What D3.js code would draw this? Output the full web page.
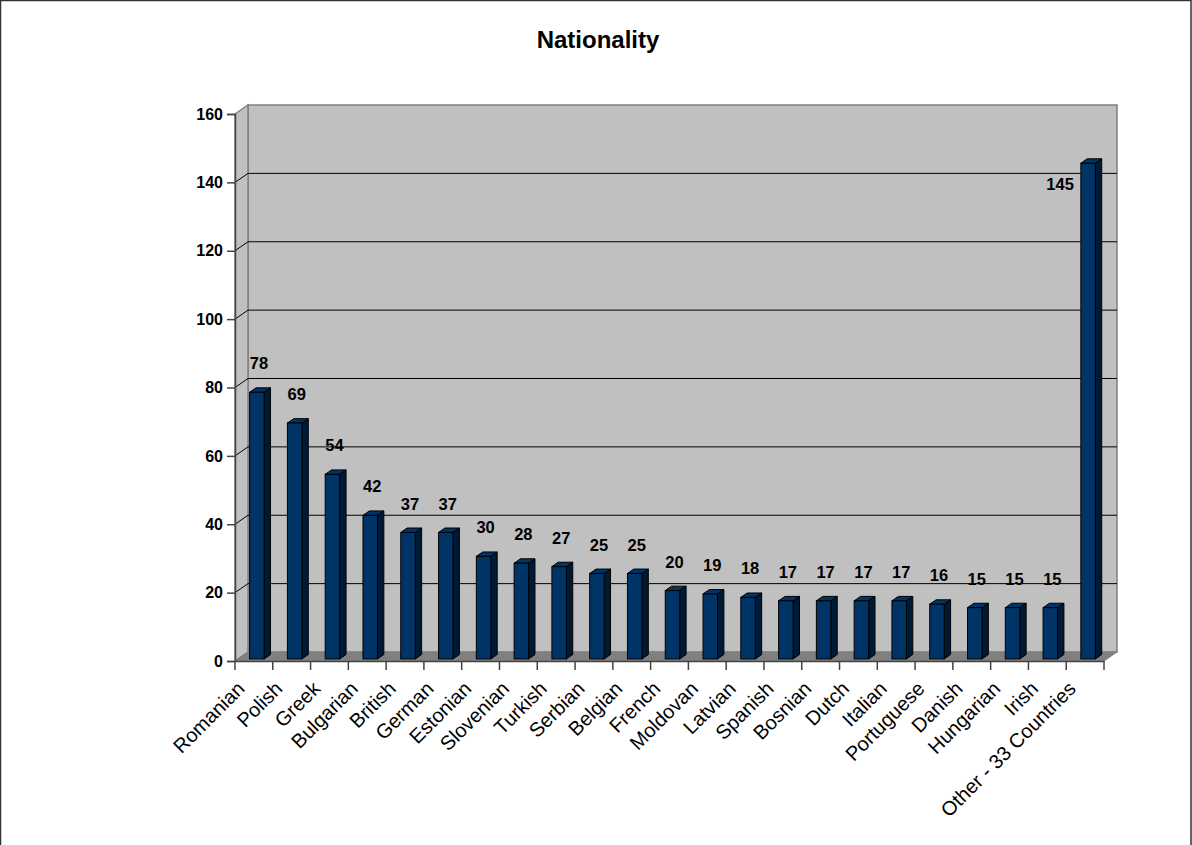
<!DOCTYPE html>
<html>
<head>
<meta charset="utf-8">
<script src="https://cdn.jsdelivr.net/npm/d3@7"></script>
<style>
  html, body { margin: 0; padding: 0; background: #fff; }
  svg { display: block; font-family: Arial, "Liberation Sans", sans-serif; }
</style>
</head>
<body>
<svg id="chart" width="1192" height="845"></svg>
<script>
// Nationality counts
const categories = ["Romanian", "Polish", "Greek", "Bulgarian", "British", "German", "Estonian",
  "Slovenian", "Turkish", "Serbian", "Belgian", "French", "Moldovan", "Latvian", "Spanish",
  "Bosnian", "Dutch", "Italian", "Portuguese", "Danish", "Hungarian", "Irish", "Other - 33 Countries"];
const counts = [78, 69, 54, 42, 37, 37, 30, 28, 27, 25, 25, 20, 19, 18, 17, 17, 17, 17, 16, 15, 15, 15, 145];
const yTicks = [0, 20, 40, 60, 80, 100, 120, 140, 160];
const chartTitle = "Nationality";

const W = 1192, H = 845;
const FONT = "Arial, 'Liberation Sans', sans-serif";
const svg = d3.select("#chart");

// outer chart border
svg.append("rect").attr("x", 0.5).attr("y", 0.5).attr("width", W - 1.5).attr("height", H + 5)
  .attr("fill", "#fff").attr("stroke", "#333").attr("stroke-width", 1.5);

// front plane scales
const x = d3.scaleBand().domain(categories).range([235, 1104]).paddingInner(0).paddingOuter(0);
const y = d3.scaleLinear().domain([0, 160]).range([661, 114]);

// depth vector of the 3D box (front -> back)
const DX = 13, DY = -9;
const x0 = x.range()[0], x1 = x.range()[1];
const yBot = y(0), yTop = y(160);

const pts = a => a.map(p => p.join(",")).join(" ");

// back wall
svg.append("polygon")
  .attr("points", pts([[x0 + DX, yTop + DY], [x1 + DX, yTop + DY], [x1 + DX, yBot + DY], [x0 + DX, yBot + DY]]))
  .attr("fill", "#c0c0c0").attr("stroke", "#808080").attr("stroke-width", 1.5);

// side wall
svg.append("polygon")
  .attr("points", pts([[x0, yTop], [x0 + DX, yTop + DY], [x0 + DX, yBot + DY], [x0, yBot]]))
  .attr("fill", "#c0c0c0").attr("stroke", "#808080").attr("stroke-width", 1.5);

// floor
svg.append("polygon")
  .attr("points", pts([[x0, yBot], [x0 + DX, yBot + DY], [x1 + DX, yBot + DY], [x1, yBot]]))
  .attr("fill", "#808080").attr("stroke", "#808080").attr("stroke-width", 1);

// gridlines on side and back walls
const grid = yTicks.filter(t => t > 0 && t < 160);
svg.append("g").selectAll("path").data(grid).join("path")
  .attr("d", t => `M${x0},${y(t)}L${x0 + DX},${y(t) + DY}L${x1 + DX},${y(t) + DY}`)
  .attr("fill", "none").attr("stroke", "#000").attr("stroke-width", 1);

// value axis
const yAxis = d3.axisLeft(y).tickValues(yTicks).tickSize(8).tickPadding(4);
const gy = svg.append("g").attr("transform", `translate(${x0},0)`).call(yAxis)
  .attr("font-size", null).attr("font-family", null);
gy.select(".domain").attr("stroke", "#444").attr("stroke-width", 1.5);
gy.selectAll(".tick line").attr("stroke", "#444").attr("stroke-width", 1.5);
gy.selectAll(".tick text").style("font-size", "16px").style("font-weight", "bold")
  .style("font-family", FONT).attr("fill", "#000");

// category axis
const xAxis = d3.axisBottom(x).tickSize(0).tickFormat("");
const gx = svg.append("g").attr("transform", `translate(0,${yBot})`).call(xAxis);
gx.select(".domain").attr("stroke", "#444").attr("stroke-width", 1.5);
// tick marks at band boundaries
const bounds = categories.map(c => x(c)).concat([x1]);
svg.append("g").selectAll("line").data(bounds).join("line")
  .attr("x1", d => d).attr("x2", d => d).attr("y1", yBot).attr("y2", yBot + 9)
  .attr("stroke", "#444").attr("stroke-width", 1.5);

// 3D columns
const bw = 14.5;               // front face width
const f0 = 0.23, f1 = 0.72;    // depth span of each column
const bars = svg.append("g").selectAll("g").data(categories).join("g");
bars.each(function (c, i) {
  const v = counts[i];
  const g = d3.select(this);
  const cx = x(c) + x.bandwidth() / 2;
  const L = cx - bw / 2 + f0 * DX, R = L + bw;
  const T = y(v) + f0 * DY, B = yBot + f0 * DY;
  const ddx = (f1 - f0) * DX, ddy = (f1 - f0) * DY;
  g.append("polygon").attr("points", pts([[R, T], [R + ddx, T + ddy], [R + ddx, B + ddy], [R, B]]))
    .attr("fill", "#001a35").attr("stroke", "#000").attr("stroke-width", 1);
  g.append("polygon").attr("points", pts([[L, T], [L + ddx, T + ddy], [R + ddx, T + ddy], [R, T]]))
    .attr("fill", "#003366").attr("stroke", "#000").attr("stroke-width", 1);
  g.append("rect").attr("x", L).attr("y", T).attr("width", bw).attr("height", B - T)
    .attr("fill", "#003366").attr("stroke", "#000").attr("stroke-width", 1);
});

// value labels; a column reaching near the top of the axis gets its label beside it
const labelLimit = 0.85 * y.domain()[1];
svg.append("g").selectAll("text").data(categories).join("text")
  .style("font-size", "16.5px").style("font-weight", "bold").style("font-family", FONT).attr("fill", "#000")
  .each(function (c, i) {
    const v = counts[i];
    const cx = x(c) + x.bandwidth() / 2;
    const t = d3.select(this).text(v);
    if (v > labelLimit) {
      t.attr("x", cx - bw / 2 + f0 * DX - 7).attr("y", y(v) + 25).attr("text-anchor", "end");
    } else {
      t.attr("x", cx + 5).attr("y", y(v) - 25).attr("text-anchor", "middle");
    }
  });

// rotated category labels
svg.append("g").selectAll("text").data(categories).join("text")
  .style("font-size", "20px").style("font-family", FONT).attr("fill", "#000").attr("text-anchor", "end")
  .attr("transform", c => `translate(${x(c) + x.bandwidth() / 2 - 8},${yBot + 29}) rotate(-45)`)
  .text(c => c);

// title
svg.append("text").attr("x", 598).attr("y", 48).attr("text-anchor", "middle")
  .style("font-size", "24px").style("font-weight", "bold").style("font-family", FONT).text(chartTitle);
</script>
</body>
</html>
